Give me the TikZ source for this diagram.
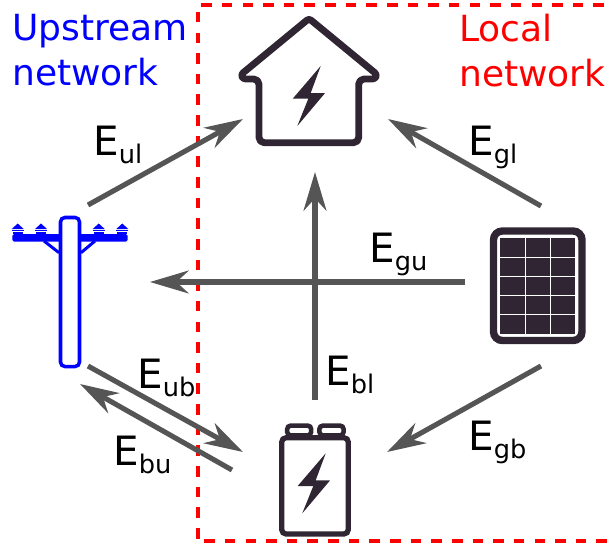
\documentclass[tikz,border=0pt]{standalone}
\usepackage{fontspec}
\setmainfont{DejaVu Sans}
\usetikzlibrary{arrows.meta}
\definecolor{icondark}{HTML}{2F2533}
\definecolor{flowgray}{HTML}{555555}
\newcommand{\flowtext}[1]{E\raisebox{-4.7pt}{\fontsize{14.6}{14.6}\selectfont #1}}
\tikzset{
  flow/.style={draw=flowgray,line width=2.9pt,-{Stealth[length=22pt,width=13pt,inset=7pt]}},
  zone/.style={draw=red,line width=1.85pt,dash pattern=on 6pt off 5.75pt},
  title/.style={align=left,anchor=north west,inner sep=0pt,font=\fontsize{20.5}{25.4}\selectfont},
  flowlabel/.style={anchor=base west,inner sep=0pt,font=\fontsize{23}{26}\selectfont},
  bolt/.pic={\fill[icondark] (0,0) -- (-28,32.7) -- (-12.4,32.7) -- (-23.4,60) -- (4.4,27) -- (-10,27) -- cycle;}
}
\begin{document}
\begin{tikzpicture}[x=0.02cm,y=-0.02cm]
    \useasboundingbox (0,0) rectangle (612,545);
    \draw[zone] (604,5) -- (198,5) -- (198,539) [rounded corners=2] -- (198,541) -- (612,541);

    % house
    \draw[icondark,line width=3.9pt,line join=round,rounded corners=3]
        (309,142.7) -- (259,142.7) -- (259,79) [rounded corners=1.5] -- (243,79) -- (241,74.5) -- (309,18.5)
        -- (377,74.5) -- (375,79) [rounded corners=3] -- (358.7,79) -- (358.7,142.7) -- cycle;
    \pic at (320.7,66) {bolt};

    % pole
    \fill[blue,rounded corners=1] (12.3,234) rectangle (127.7,241.7);
    \draw[blue,line width=1.7pt] (44,241) -- (59,252.7) (95,241) -- (81,252.7);
    \foreach \px in {17.7,41,98.7,122.3} {
        \fill[blue] (\px-6,229) -- (\px,223.5) -- (\px+6,229) -- cycle;
        \fill[blue] (\px-6,229.7) rectangle (\px+6,231.3);
        \fill[blue] (\px-5,232) rectangle (\px+5,234);
    }
    \draw[blue,line width=2pt,fill=white,rounded corners=2.5] (60.5,217.5) rectangle (79.5,366.5);

    % panel
    \draw[icondark,line width=4.2pt,rounded corners=5] (493.5,231) rectangle (582,340.5);
    \foreach \cx/\cw in {500/25,526/24,551/24.3} {
        \foreach \cy/\ch in {238/18.7,257.7/18.3,277/18,296/18.3,315.3/18.7} {
            \fill[icondark] (\cx,\cy) rectangle (\cx+\cw,\cy+\ch);
        }
    }

    % battery
    \draw[icondark,line width=2.6pt,rounded corners=2] (287.2,425.6) rectangle (311.2,435.4);
    \draw[icondark,line width=2.6pt,rounded corners=2] (319.4,425.6) rectangle (343.6,435.4);
    \draw[icondark,line width=3pt,fill=white,rounded corners=2.5] (281.7,437.7) rectangle (348.3,534);
    \pic at (325.7,453.3) {bolt};

    % connector ends
    \coordinate (gridtop) at (88,205);
    \coordinate (housewest) at (243,119);
    \coordinate (panelup) at (541,206);
    \coordinate (houseeast) at (388,119);
    \coordinate (batteryup) at (315,400);
    \coordinate (housesouth) at (315,172);
    \coordinate (panelwest) at (465,282);
    \coordinate (gridmid) at (150,282);
    \coordinate (paneldown) at (541,366);
    \coordinate (batteryeast) at (387,452);
    \coordinate (gridlow) at (88,366);
    \coordinate (batterywest) at (243,452);
    \coordinate (batterylow) at (232,470);
    \coordinate (gridbottom) at (80,384);

    \draw[flow] (gridtop) -- (housewest);
    \draw[flow] (panelup) -- (houseeast);
    \draw[flow] (batteryup) -- (housesouth);
    \draw[flow] (panelwest) -- (gridmid);
    \draw[flow] (paneldown) -- (batteryeast);
    \draw[flow] (gridlow) -- (batterywest);
    \draw[flow] (batterylow) -- (gridbottom);

    \node[title,text=blue] (upstream) at (12,14) {Upstream\\network};
    \node[title,text=red] (local) at (459,14) {Local\\network};

    \node[flowlabel] (eul) at (93,155) {\flowtext{ul}};
    \node[flowlabel] (egl) at (468,155) {\flowtext{gl}};
    \node[flowlabel] (egu) at (369,262) {\flowtext{gu}};
    \node[flowlabel] (ebl) at (325,385) {\flowtext{bl}};
    \node[flowlabel] (eub) at (137,388) {\flowtext{ub}};
    \node[flowlabel] (ebu) at (113,465) {\flowtext{bu}};
    \node[flowlabel] (egb) at (468,450) {\flowtext{gb}};
\end{tikzpicture}
\end{document}
